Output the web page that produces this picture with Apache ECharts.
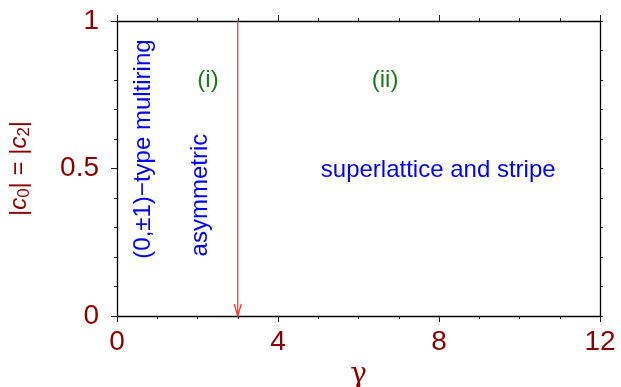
<!DOCTYPE html>
<html>
<head>
<meta charset="utf-8">
<script src="https://cdn.jsdelivr.net/npm/echarts@6/dist/echarts.min.js"></script>
<style>
  html, body { margin: 0; padding: 0; background: #fff; }
  #chart { width: 621px; height: 387px; }
</style>
</head>
<body>
<div id="chart"></div>
<script>
var gammaRange = [0, 12];
var ampRange = [0, 1];
var boundaryGamma = [3];
// region labels: text, gamma, amplitude, vertical?, colour
var labelTexts = ['(i)', '(ii)', 'superlattice and stripe', '(0,\u00b11)\u2212type multiring', 'asymmetric'];
var labelGamma = [2.26, 6.66, 7.98, 0.65, 2.06];
var labelAmp = [0.80, 0.80, 0.495, 0.566, 0.41];
var labelVertical = [false, false, false, true, true];
var labelColors = ['#1a7a1a', '#1a7a1a', '#0000ff', '#0000ff', '#0000ff'];

var darkRed = '#8b0000';
var fontFam = 'Liberation Sans, Arial, sans-serif';

var labelData = [];
for (var i = 0; i < labelTexts.length; i++) {
    labelData.push([labelGamma[i], labelAmp[i], i]);
}

var chart = echarts.init(document.getElementById('chart'));

var baseAxis = function (extra) {
    var ax = {
        type: 'value',
        axisLine: { show: true, onZero: false, lineStyle: { color: '#000', width: 1.3 } },
        axisTick: { show: true, inside: false, length: 6, lineStyle: { color: '#222', width: 1 } },
        minorTick: { show: true, length: 3, lineStyle: { color: '#222', width: 1 } },
        splitLine: { show: false },
        axisLabel: { show: false }
    };
    for (var k in extra) { ax[k] = extra[k]; }
    return ax;
};

var option = {
    animation: false,
    backgroundColor: '#fff',
    grid: { left: 117, right: 21, top: 21, bottom: 71, containLabel: false, outerBoundsMode: 'none' },
    xAxis: [
        baseAxis({
            position: 'bottom', min: gammaRange[0], max: gammaRange[1], interval: 4,
            minorTick: { show: true, splitNumber: 4, length: 3, lineStyle: { color: '#222' } },
            axisLabel: { show: true, color: darkRed, fontSize: 28, fontFamily: fontFam, margin: 12 },
            name: '\u03b3', nameLocation: 'middle', nameGap: 44,
            nameTextStyle: { color: darkRed, fontSize: 28, fontFamily: 'DejaVu Serif, serif' }
        }),
        baseAxis({
            position: 'top', min: gammaRange[0], max: gammaRange[1], interval: 4,
            minorTick: { show: true, splitNumber: 4, length: 3, lineStyle: { color: '#222' } }
        })
    ],
    yAxis: [
        baseAxis({
            position: 'left', min: ampRange[0], max: ampRange[1], interval: 0.5,
            minorTick: { show: true, splitNumber: 5, length: 3, lineStyle: { color: '#222' } },
            axisLabel: { show: true, color: darkRed, fontSize: 28, fontFamily: fontFam, margin: 18 },
            name: '|{i|c}{s|0}| = |{i|c}{s|2}|', nameLocation: 'middle', nameGap: 84, nameRotate: 90,
            nameTextStyle: {
                color: darkRed, fontSize: 24, fontFamily: fontFam,
                rich: {
                    i: { fontStyle: 'italic', fontSize: 24, color: darkRed, fontFamily: fontFam },
                    s: { fontSize: 17, color: darkRed, fontFamily: fontFam, verticalAlign: 'bottom', padding: [10, 0, 0, 0] }
                }
            }
        }),
        baseAxis({
            position: 'right', min: ampRange[0], max: ampRange[1], interval: 0.5,
            axisTick: { show: true, inside: false, length: 3, lineStyle: { color: '#222' } },
            minorTick: { show: true, splitNumber: 5, length: 3, lineStyle: { color: '#222' } }
        })
    ],
    series: [
        {
            type: 'custom',
            name: 'boundary',
            xAxisIndex: 0,
            yAxisIndex: 0,
            data: boundaryGamma.map(function (g) { return [g, ampRange[1]]; }),
            renderItem: function (params, api) {
                var g = api.value(0);
                var top = api.coord([g, ampRange[1]]);
                var bot = api.coord([g, ampRange[0]]);
                var red = '#ff2a2a';
                return {
                    type: 'group',
                    children: [
                        { type: 'line', shape: { x1: top[0], y1: top[1], x2: bot[0], y2: bot[1] },
                          style: { stroke: red, lineWidth: 1.2 } },
                        { type: 'polyline', shape: { points: [[bot[0] - 3.5, bot[1] - 12], [bot[0], bot[1]], [bot[0] + 3.5, bot[1] - 12]] },
                          style: { stroke: red, lineWidth: 1.2, fill: null } }
                    ]
                };
            },
            z: 5
        },
        {
            type: 'custom',
            name: 'labels',
            xAxisIndex: 0,
            yAxisIndex: 0,
            data: labelData,
            renderItem: function (params, api) {
                var idx = api.value(2);
                var p = api.coord([api.value(0), api.value(1)]);
                return {
                    type: 'text',
                    x: p[0],
                    y: p[1],
                    rotation: labelVertical[idx] ? Math.PI / 2 : 0,
                    style: {
                        text: labelTexts[idx],
                        fill: labelColors[idx],
                        fontSize: 24,
                        fontFamily: fontFam,
                        align: 'center',
                        verticalAlign: 'middle'
                    }
                };
            },
            z: 6
        }
    ]
};

chart.setOption(option);
</script>
</body>
</html>
